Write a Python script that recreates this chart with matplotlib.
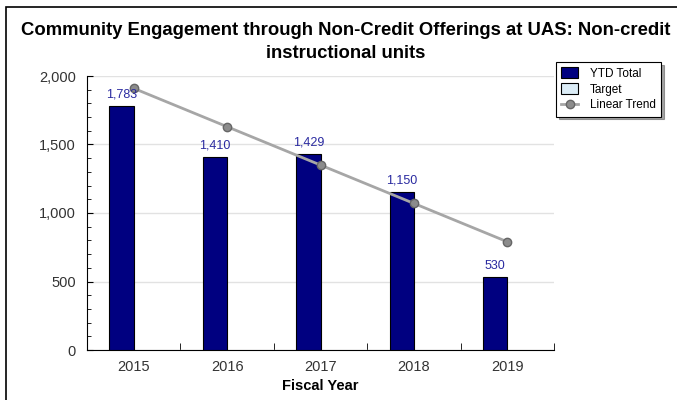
"""
UAS non-credit instructional units chart
"""
import numpy as np
import matplotlib.pyplot as plt
from matplotlib.ticker import FuncFormatter, MultipleLocator, FixedLocator

plt.rcParams["font.family"] = ["Liberation Sans", "DejaVu Sans"]

years = ["2015", "2016", "2017", "2018", "2019"]
ytd_total = [1783, 1410, 1429, 1150, 530]
target = [np.nan, np.nan, np.nan, np.nan, np.nan]
linear_trend = [1910, 1630, 1350, 1070, 790]


def draw_chart():
    """
    draw the bar chart with trend line
    """
    fig = plt.figure(figsize=(6.77, 4.0), dpi=100)
    ax = fig.add_axes([87 / 677, 50 / 400, 467 / 677, 274 / 400])

    x = np.arange(len(years))
    w = 0.26
    b1 = ax.bar(x - w / 2, ytd_total, width=w, color="#000080", edgecolor="black",
                linewidth=0.8, label="YTD Total", zorder=3)
    b2 = ax.bar(x + w / 2, target, width=w, color="#dcedf7", edgecolor="black",
                linewidth=0.8, label="Target", zorder=3)
    (ln,) = ax.plot(x, linear_trend, color="#a6a6a6", lw=2, marker="o",
                    markersize=6, markerfacecolor="#8c8c8c",
                    markeredgecolor="#666666", label="Linear Trend", zorder=4)

    # value labels
    for xi, v in zip(x, ytd_total):
        ax.annotate(f"{v:,}", (xi - w / 2, v), xytext=(0, 4),
                    textcoords="offset points", ha="center", va="bottom",
                    fontsize=9, color="#2a2aa0", zorder=5)

    ax.set_xlim(-0.5, len(years) - 0.5)
    ax.set_ylim(0, 2000)
    ax.set_xticks(x)
    ax.set_xticklabels(years)
    ax.xaxis.set_minor_locator(FixedLocator(np.arange(0.5, len(years), 1.0)))
    ax.yaxis.set_major_locator(MultipleLocator(500))
    ax.yaxis.set_minor_locator(MultipleLocator(100))
    ax.yaxis.set_major_formatter(FuncFormatter(lambda v, p: f"{int(v):,}"))

    ax.tick_params(axis="x", which="major", length=0, pad=7,
                   labelsize=10.5, labelcolor="#333333")
    ax.tick_params(axis="x", which="minor", direction="in", length=5)
    ax.tick_params(axis="y", which="major", direction="in", length=4, pad=8,
                   labelsize=10.5, labelcolor="#333333")
    ax.tick_params(axis="y", which="minor", direction="in", length=3)

    ax.grid(axis="y", which="major", color="#e2e2e2", lw=1, zorder=0)
    ax.spines["top"].set_visible(False)
    ax.spines["right"].set_visible(False)

    ax.set_xlabel("Fiscal Year", fontsize=10.5, fontweight="bold", labelpad=4)

    fig.text(346 / 677, 1 - 22 / 400,
             "Community Engagement through Non-Credit Offerings at UAS: Non-credit\n"
             "instructional units",
             ha="center", va="top", fontsize=13.3, fontweight="bold",
             linespacing=1.45)

    leg = fig.legend([b1, b2, ln], ["YTD Total", "Target", "Linear Trend"],
                     loc="upper left", bbox_to_anchor=(556 / 677, 1 - 62 / 400),
                     fontsize=8.5, frameon=True, fancybox=False, shadow=True,
                     borderaxespad=0, handlelength=1.4, handleheight=1.0,
                     handletextpad=1.0, labelspacing=0.3, borderpad=0.45)
    leg.get_frame().set_edgecolor("black")
    leg.get_frame().set_linewidth(0.8)

    # outer frame
    fig.add_artist(plt.Rectangle((6 / 677, -0.1), 1.0, 1.1 - 7 / 400,
                                 transform=fig.transFigure, fill=False,
                                 edgecolor="black", lw=1.2))

    fig.savefig("out.png", dpi=100)


def main():
    """
    main
    """
    draw_chart()


if __name__ == "__main__":
    main()
